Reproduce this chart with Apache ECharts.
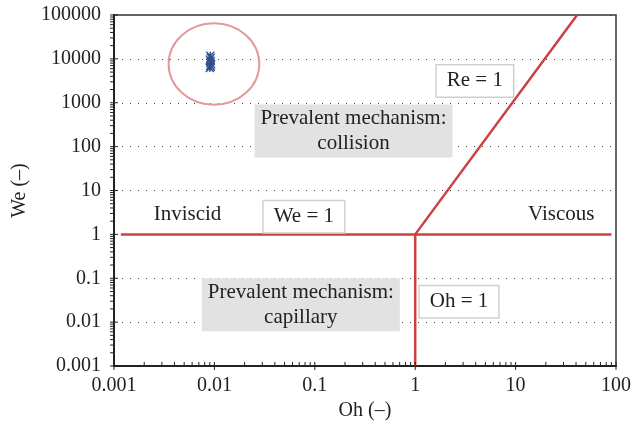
<!DOCTYPE html>
<html><head><meta charset="utf-8">
<script src="https://cdn.jsdelivr.net/npm/echarts@6/dist/echarts.min.js"></script>
<style>html,body{margin:0;padding:0;background:#fff}#c{width:634px;height:430px}</style>
</head><body><div id="c"></div>
<script>
// ---- data ----
const xTickLabels = ['0.001','0.01','0.1','1','10','100'];
const yTickLabels = ['0.001','0.01','0.1','1','10','100','1000','10000','100000'];
const sampleOh = [0.0091, 0.0092, 0.0090, 0.0092, 0.0091, 0.0093, 0.0091, 0.0092, 0.0090];
const sampleWe = [11800, 10600, 9600, 8800, 8100, 7500, 7000, 6600, 6200];
const lineWe1 = [[0.00117, 1], [90, 1]];
const lineOh1 = [[1, 1], [1, 0.001]];
const lineRe1 = [[1, 1], [41, 100000]];
const annotationTexts = ['Re = 1', 'Prevalent mechanism:\ncollision', 'Inviscid', 'We = 1', 'Viscous', 'Prevalent mechanism:\ncapillary', 'Oh = 1'];
const annotationOh = [3.93, 0.243, 0.0054, 0.0778, 28.5, 0.0726, 2.73];
const annotationWe = [3140, 228, 2.78, 2.51, 2.78, 0.0248, 0.029];
const annotationKind = ['box', 'gray', 'plain', 'box', 'plain', 'gray', 'box'];
const ellipseOh = [0.0035, 0.028];
const ellipseWe = [900, 65000];

// ---- build ----
const FONT = 'Liberation Serif';
const TXT = '#222';
const RED = '#cc4040';

const tickData = [];
for (let e = -3; e <= 2; e++) {
  tickData.push([Math.pow(10, e), 0.001, 0, 1]);
  if (e < 2) for (let k = 2; k <= 9; k++) tickData.push([k * Math.pow(10, e), 0.001, 0, 0]);
}
for (let e = -3; e <= 5; e++) {
  tickData.push([0.001, Math.pow(10, e), 1, 1]);
  if (e < 5) for (let k = 2; k <= 9; k++) tickData.push([0.001, k * Math.pow(10, e), 1, 0]);
}

function labelStyle(kind) {
  const base = { show: true, position: 'inside', fontFamily: FONT, fontSize: 21, color: TXT, lineHeight: 25, align: 'center', verticalAlign: 'middle', textBorderWidth: 0 };
  if (kind === 'gray') return Object.assign(base, { backgroundColor: '#e2e2e2', padding: [2, 6, 1, 6] });
  if (kind === 'box') return Object.assign(base, { backgroundColor: '#fff', borderColor: '#d0d0d0', borderWidth: 1.5, padding: [4, 10, 2, 10] });
  return base;
}
const annData = annotationTexts.map((t, i) => ({
  value: [annotationOh[i], annotationWe[i]],
  label: Object.assign(labelStyle(annotationKind[i]), { formatter: t })
}));

const fmt = (labels) => (v) => labels[Math.round(Math.log10(v)) + 3];

const chart = echarts.init(document.getElementById('c'));
chart.setOption({
  animation: false,
  backgroundColor: '#fff',
  grid: { left: 114, right: 15, top: 15, bottom: 64, show: true, borderColor: '#333', borderWidth: 1.5 },
  xAxis: {
    type: 'log', logBase: 10, min: 0.001, max: 100, splitNumber: 5,
    name: 'Oh (–)', nameLocation: 'middle', nameGap: 27,
    nameTextStyle: { fontFamily: FONT, fontSize: 20, color: TXT },
    axisLine: { lineStyle: { color: '#222', width: 2 } },
    axisTick: { show: false },
    axisLabel: { fontFamily: FONT, fontSize: 20, color: TXT, margin: 10, formatter: fmt(xTickLabels) },
    splitLine: { show: false }
  },
  yAxis: {
    type: 'log', logBase: 10, min: 0.001, max: 100000, splitNumber: 8,
    name: 'We (–)', nameLocation: 'middle', nameGap: 83, nameRotate: 90,
    nameTextStyle: { fontFamily: FONT, fontSize: 20, color: TXT },
    axisLine: { lineStyle: { color: '#222', width: 2 } },
    axisTick: { show: false },
    axisLabel: { fontFamily: FONT, fontSize: 20, color: TXT, margin: 13, formatter: fmt(yTickLabels) },
    splitLine: { show: true, lineStyle: { color: '#444', width: 1, type: [1, 7] } }
  },
  series: [
    { type: 'line', data: lineWe1, symbol: 'none', lineStyle: { color: RED, width: 2.5 }, z: 3 },
    { type: 'line', data: lineOh1, symbol: 'none', lineStyle: { color: RED, width: 2.5 }, z: 3 },
    { type: 'line', data: lineRe1, symbol: 'none', lineStyle: { color: RED, width: 2.5 }, z: 3 },
    {
      type: 'custom', silent: true, z: 2,
      data: [[ellipseOh[0], ellipseWe[0], ellipseOh[1], ellipseWe[1]]],
      encode: { x: [0, 2], y: [1, 3] },
      renderItem: function (params, api) {
        const a = api.coord([api.value(0), api.value(1)]);
        const b = api.coord([api.value(2), api.value(3)]);
        const cx = (a[0] + b[0]) / 2, cy = (a[1] + b[1]) / 2;
        const rx = Math.abs(b[0] - a[0]) / 2, ry = Math.abs(b[1] - a[1]) / 2;
        return {
          type: 'path',
          shape: { pathData: `M${cx - rx},${cy} A${rx},${ry} 0 1,0 ${cx + rx},${cy} A${rx},${ry} 0 1,0 ${cx - rx},${cy} Z` },
          style: { fill: 'none', stroke: '#e29a98', lineWidth: 2 }
        };
      }
    },
    {
      type: 'scatter', z: 4,
      data: sampleOh.map((o, i) => [o, sampleWe[i]]),
      symbol: 'path://M0,0L10,10M10,0L0,10M5,0L5,10',
      symbolSize: [8, 8],
      itemStyle: { color: 'rgba(0,0,0,0)', borderColor: '#2e4f8e', borderWidth: 1.3, opacity: 1 }
    },
    {
      type: 'custom', silent: true, clip: false, z: 6,
      data: tickData,
      encode: { x: 0, y: 1 },
      renderItem: function (params, api) {
        const p = api.coord([api.value(0), api.value(1)]);
        const axis = api.value(2), major = api.value(3);
        if (axis === 0) {
          return { type: 'line', shape: { x1: p[0], y1: p[1] + (major ? 4 : 0), x2: p[0], y2: p[1] - 4 }, style: { stroke: '#222', lineWidth: 1 } };
        }
        return { type: 'line', shape: { x1: p[0] - 4, y1: p[1], x2: p[0] + (major ? 4 : 0), y2: p[1] }, style: { stroke: '#222', lineWidth: 1 } };
      }
    },
    {
      type: 'scatter', z: 5, silent: true,
      symbolSize: 0,
      itemStyle: { opacity: 1 },
      data: annData
    }
  ]
});
</script>
</body></html>
